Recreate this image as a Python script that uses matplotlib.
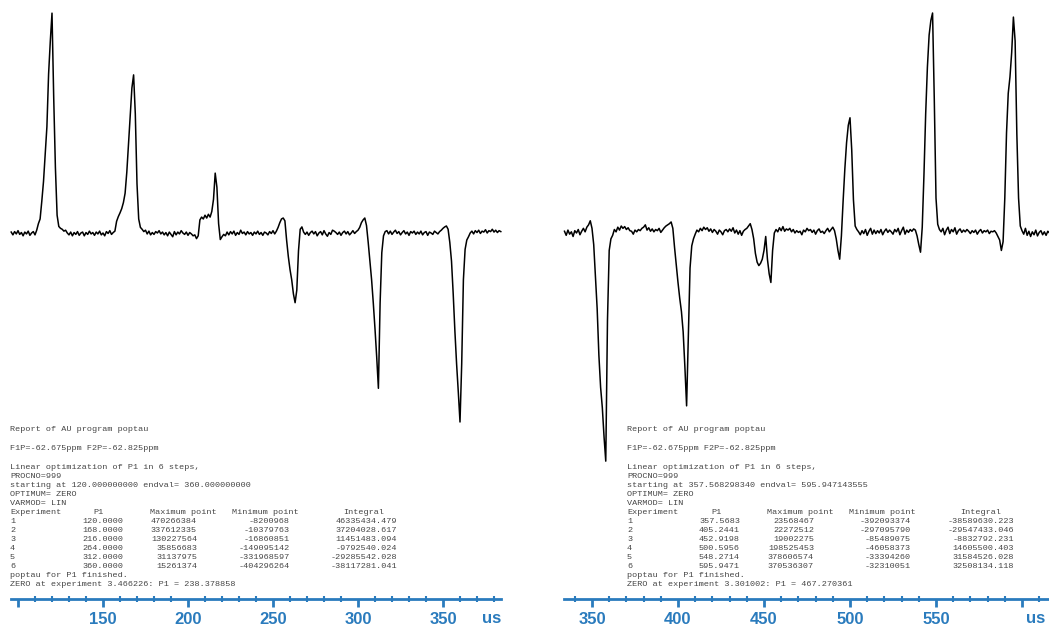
import matplotlib
matplotlib.use('Agg')
import matplotlib.pyplot as plt
import numpy as np

W, H = 1049, 626
blue = '#2a7bbd'
grey = '#454545'

# ---- left report: P1 from 120 to 360 us ----
left_p1 = ['120.0000', '168.0000', '216.0000', '264.0000', '312.0000', '360.0000']
left_max = ['470266384', '337612335', '130227564', '35856683', '31137975', '15261374']
left_min = ['-8200968', '-10379763', '-16860851', '-149095142', '-331968597', '-404296264']
left_int = ['46335434.479', '37204028.617', '11451483.094', '-9792540.024',
            '-29285542.028', '-38117281.041']
left_start = 'starting at 120.000000000 endval= 360.000000000'
left_zero = 'ZERO at experiment 3.466226: P1 = 238.378858'

# ---- right report: P1 from 357.6 to 595.9 us ----
right_p1 = ['357.5683', '405.2441', '452.9198', '500.5956', '548.2714', '595.9471']
right_max = ['23568467', '22272512', '19002275', '198525453', '378606574', '370536307']
right_min = ['-392093374', '-297095790', '-85489075', '-46058373', '-33394260', '-32310051']
right_int = ['-38589630.223', '-29547433.046', '-8832792.231', '14605500.403',
             '31584526.028', '32508134.118']
right_start = 'starting at 357.568298340 endval= 595.947143555'
right_zero = 'ZERO at experiment 3.301002: P1 = 467.270361'

# ---- spectra (intensity in units of 1e6), one point per us ----
left_x = np.arange(96, 385)
left_y = [
    2, -4, 3, -2, 5, -3, 1, -6, 2, -2, 4, -5, 0, 3, -4, 6, 20, 30, 68, 110, 168, 227, 340, 410,
    470, 290, 140, 38, 14, 10, 8, 4, 6, 0, -4, 2, -6, 1, -3, 3, -5, 0, 2, -6, 1, -3, 4, -2,
    1, -5, 2, -2, 4, -4, 0, -6, 3, -1, 5, -3, 1, 4, 25, 35, 43, 52, 65, 85, 130, 190, 250, 310,
    338, 255, 105, 30, 12, 8, 3, 6, -2, 4, -4, 1, -3, 3, 0, 5, -2, 2, -4, 1, -6, 2, -3, -8,
    3, -4, 2, -2, 5, 0, -3, 2, -5, 1, -2, -6, -4, -12, -6, 28, 34, 30, 38, 32, 40, 34, 46, 72,
    128, 98, 20, -14, -8, -3, -6, 2, -4, 3, -2, 4, -5, 1, -3, 6, -1, 2, -4, 3, -2, 1, -5, 2,
    -2, 4, -3, 1, -5, 2, 0, -4, 3, -1, 5, -2, 4, 12, 22, 30, 32, 26, -15, -50, -78, -100, -130, -149,
    -122, -38, 8, 13, 2, -3, 2, -5, 1, 4, -2, 3, -6, 0, 3, -4, 5, -2, -7, 1, -3, 6, 4, 1,
    -3, 2, -5, 1, 4, -2, 3, -4, 0, 5, -1, 3, 6, 12, 22, 28, 32, 16, -20, -60, -100, -150, -205, -265,
    -332, -150, -42, -6, 3, 5, -2, 4, -3, 2, 6, -1, 3, -4, 1, 5, -2, 2, -5, 3, 0, 4, -3, 2,
    -2, 4, -4, 1, 3, -5, 2, 0, -3, 4, 1, -2, 3, 6, 10, 13, 15, 8, -20, -60, -130, -210, -280, -340,
    -404, -280, -100, -35, -15, -8, 0, 4, -2, 5, 1, 6, -1, 4, 2, 7, 0, 5, 3, 8, 2, 6, 1, 5, 3,
]

right_x = np.arange(334, 620)
right_y = [
    3, -4, 5, -2, 2, -6, 4, 0, 6, -3, 3, 8, 2, 10, 14, 21, 8, -20, -75, -130, -210, -265, -300, -350,
    -392, -150, -30, -10, -4, 6, 2, 10, 5, 12, 8, 11, 6, 9, 4, 3, -2, 5, 2, 6, 4, 8, 10, 14,
    5, 9, 3, 7, 2, 6, 4, 8, 1, 5, 9, 12, 14, 16, 19, 8, -25, -55, -85, -112, -135, -170, -230, -297,
    -175, -60, -22, -10, -2, 5, 2, 8, 4, 10, 6, 9, 3, 7, 1, 6, 3, -2, 5, 2, -3, 4, 6,
    2, 7, 3, 9, 0, 5, -2, 4, -4, 3, 6, 8, 12, 16, 6, -10, -35, -50, -56, -52, -45, -30, -6, -45,
    -70, -85, -30, 0, 6, 2, 9, 4, 11, 3, 7, 5, 8, 2, 6, 0, 4, 1, 3, -3, 5, 2, 8, 4,
    6, 1, 5, -2, 4, 7, 1, 3, -1, 4, 8, 2, 6, 10, 4, -10, -30, -45, -5, 55, 110, 155, 185, 198,
    143, 57, 12, 6, 2, -3, 4, -1, 6, -4, 3, 8, -2, 5, -1, 4, 0, 6, -3, 3, 7, 1, 5, 2,
    -2, 6, 2, 8, -3, 4, 10, -2, 5, 1, 6, 3, 7, 5, -5, -20, -33, 10, 100, 205, 285, 340, 365, 378,
    230, 60, 15, 6, 2, 8, -3, 5, 10, -1, 6, 2, 9, -2, 4, 7, 1, 5, 2, 6, 3, -1, 4,
    1, 5, -2, 3, 6, 0, 4, 2, 5, -1, 3, 2, 4, 0, -6, -12, -30, -15, 60, 172, 240, 268, 310, 371,
    330, 170, 60, 12, 4, -2, 8, -4, 3, -6, 2, -3, 5, -5, 1, 4, -3, 2, -4, 3, 0, 2, -2, 1,
]

fig = plt.figure(figsize=(W / 100, H / 100), dpi=100)


def fx(px):
    return px / W


def fy(py):
    return 1 - py / H


def panel(rect, x, y, xlim, ylim, bounds, major, labels, minor):
    ax = fig.add_axes(rect)
    ax.plot(x, y, color='black', linewidth=1.1)
    ax.set_xlim(*xlim)
    ax.set_ylim(*ylim)
    for s in ['top', 'left', 'right']:
        ax.spines[s].set_visible(False)
    ax.spines['bottom'].set_color(blue)
    ax.spines['bottom'].set_linewidth(2)
    ax.spines['bottom'].set_bounds(*bounds)
    ax.set_yticks([])
    ax.set_xticks(major, labels=labels, fontsize=12, fontweight='bold', color=blue,
                  family='Liberation Sans')
    ax.set_xticks(minor, minor=True)
    ax.tick_params(axis='x', which='major', direction='out', length=6, width=2,
                   color=blue, pad=3)
    ax.tick_params(axis='x', which='minor', direction='inout', length=4, width=1.5,
                   color=blue)
    ax.patch.set_alpha(0)
    return ax


panel([0, 27 / H, 520 / W, 599 / H], left_x, left_y,
      (150 - 103 / 1.7, 150 + 417 / 1.7), (-366 / 0.4678, 233 / 0.4678), (96, 384),
      [100, 150, 200, 250, 300, 350], ['', '150', '200', '250', '300', '350'],
      list(range(110, 390, 10)))
panel([540 / W, 27 / H, 509 / W, 599 / H], right_x, right_y,
      (350 - 52 / 1.72, 350 + 457 / 1.72), (-366 / 0.582, 233 / 0.582), (334, 620),
      [350, 400, 450, 500, 550, 600], ['350', '400', '450', '500', '550', ''],
      list(range(340, 620, 10)))

fig.text(fx(492), fy(623), 'us', fontsize=12, fontweight='bold', color=blue,
         family='Liberation Sans', ha='center', va='baseline')
fig.text(fx(1036), fy(623), 'us', fontsize=12, fontweight='bold', color=blue,
         family='Liberation Sans', ha='center', va='baseline')


def report(x0, start, p1, mx, mn, integ, zero, min_end):
    kw = dict(fontsize=6.1, family='Liberation Mono', color=grey, va='baseline')

    def put(px, py, s, ha='left'):
        fig.text(fx(x0 + px), fy(py + 3), s, ha=ha, **kw)

    head = [(428, 'Report of AU program poptau'),
            (447, 'F1P=-62.675ppm F2P=-62.825ppm'),
            (466, 'Linear optimization of P1 in 6 steps,'),
            (475, 'PROCNO=999'),
            (484, start),
            (493, 'OPTIMUM= ZERO'),
            (502, 'VARMOD= LIN')]
    for py, s in head:
        put(0, py, s)
    put(0, 511, 'Experiment')
    put(89, 511, 'P1', 'center')
    put(140, 511, 'Maximum point')
    put(222, 511, 'Minimum point')
    put(333, 511, 'Integral')
    for i in range(6):
        py = 520 + 9 * i
        put(0, py, str(i + 1))
        put(113, py, p1[i], 'right')
        put(187, py, mx[i], 'right')
        put(min_end, py, mn[i], 'right')
        put(387, py, integ[i], 'right')
    put(0, 574, 'poptau for P1 finished.')
    put(0, 583, zero)


report(10, left_start, left_p1, left_max, left_min, left_int, left_zero, 280)
report(627, right_start, right_p1, right_max, right_min, right_int, right_zero, 284)

fig.savefig('out.png', dpi=100, facecolor='white')
